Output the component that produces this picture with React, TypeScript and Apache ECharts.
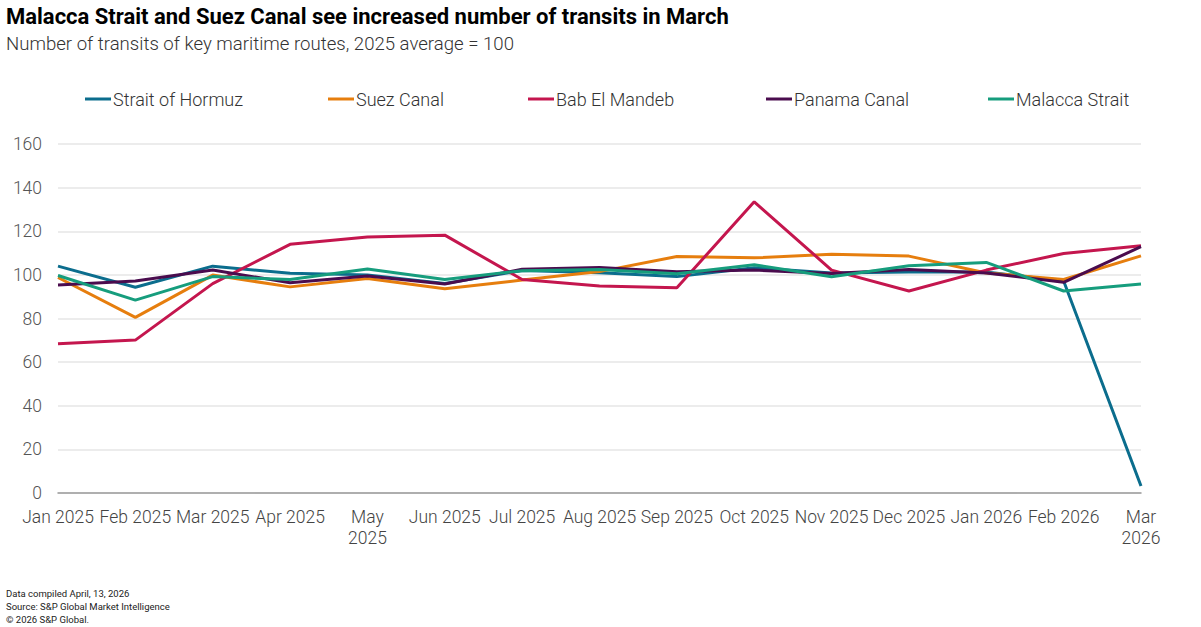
import React, { useEffect, useRef } from "react";
import * as echarts from "echarts";

const categories = [
  "Jan 2025", "Feb 2025", "Mar 2025", "Apr 2025", "May\n2025", "Jun 2025", "Jul 2025",
  "Aug 2025", "Sep 2025", "Oct 2025", "Nov 2025", "Dec 2025", "Jan 2026", "Feb 2026", "Mar\n2026",
];

const hormuz = [104, 94.3, 104, 100.7, 100, 96, 102, 101, 99.2, 103.3, 100.9, 101.3, 101.3, 97.2, 3.2];
const suez = [98.8, 80.5, 99.9, 94.5, 98.3, 93.6, 97.6, 101.5, 108.4, 107.8, 109.4, 108.6, 100.9, 97.9, 108.7];
const babElMandeb = [68.4, 70.1, 96, 114, 117.4, 118.2, 97.9, 94.9, 94.1, 133.5, 102.2, 92.6, 102.2, 109.8, 113.3];
const panama = [95.4, 97.2, 102.2, 96.4, 99.5, 95.8, 102.6, 103.4, 101.4, 102.2, 100.6, 102.5, 100.9, 96.6, 112.9];
const malacca = [99.7, 88.4, 99.2, 97.9, 102.7, 97.9, 101.9, 102.5, 100.5, 104.6, 99.1, 104.2, 105.7, 92.6, 95.8];

const seriesNames = ["Strait of Hormuz", "Suez Canal", "Bab El Mandeb", "Panama Canal", "Malacca Strait"];
const seriesColors = ["#0b6d8d", "#e67e0e", "#c4164e", "#4a0c4e", "#169d7d"];
const seriesData = [hormuz, suez, babElMandeb, panama, malacca];
const legendLefts = [80, 323, 523, 761, 983];

const yTicks = { min: 0, max: 160, interval: 20 };

const FONT = "Roboto, 'Liberation Sans', sans-serif";

export default function App() {
  const ref = useRef<HTMLDivElement>(null);

  useEffect(() => {
    if (!ref.current) return;
    const chart = echarts.init(ref.current, undefined, { renderer: "svg" });
    chart.setOption({
      animation: false,
      backgroundColor: "#ffffff",
      textStyle: { fontFamily: FONT },
      title: [
        {
          text: "Malacca Strait and Suez Canal see increased number of transits in March",
          left: 1,
          top: 0,
          textStyle: { fontFamily: FONT, fontSize: 22, fontWeight: "bold", color: "#000000" },
        },
        {
          text: "Number of transits of key maritime routes, 2025 average = 100",
          left: 1,
          top: 29,
          textStyle: { fontFamily: FONT, fontSize: 18.6, fontWeight: 300, color: "#333333" },
        },
        {
          text: "Data compiled April, 13, 2026\nSource: S&P Global Market Intelligence\n© 2026 S&P Global.",
          left: 1,
          top: 582,
          textStyle: { fontFamily: FONT, fontSize: 9.5, fontWeight: "normal", color: "#222222", lineHeight: 13 },
        },
      ],
      legend: seriesNames.map((name, i) => ({
        data: [name],
        left: legendLefts[i],
        top: 85,
        icon: "rect",
        itemWidth: 26,
        itemHeight: 3,
        textStyle: { fontFamily: FONT, fontSize: 18, fontWeight: 300, color: "#333333", padding: [0, 0, 0, -3] },
      })),
      grid: { left: 58, right: 60, top: 144, bottom: 134, containLabel: false },
      xAxis: {
        type: "category",
        data: categories,
        boundaryGap: false,
        axisLine: { show: true, lineStyle: { color: "#9a9a9a", width: 1.5 } },
        axisTick: { show: false },
        axisLabel: {
          interval: 0,
          margin: 13,
          fontSize: 17.5,
          fontWeight: 300,
          lineHeight: 21,
          color: "#444444",
          fontFamily: FONT,
        },
        splitLine: { show: false },
      },
      yAxis: {
        type: "value",
        min: yTicks.min,
        max: yTicks.max,
        interval: yTicks.interval,
        axisLine: { show: false },
        axisTick: { show: false },
        axisLabel: { margin: 16, fontSize: 17.5, fontWeight: 300, color: "#555555", fontFamily: FONT },
        splitLine: { lineStyle: { color: "#e6e6e6", width: 1.5 } },
      },
      series: seriesNames.map((name, i) => ({
        name,
        type: "line",
        data: seriesData[i],
        symbol: "none",
        color: seriesColors[i],
        lineStyle: { width: 3, color: seriesColors[i] },
        emphasis: { disabled: true },
      })),
    });
    return () => chart.dispose();
  }, []);

  return (
    <div
      ref={ref}
      style={{ position: "fixed", left: 0, top: 0, width: 1201, height: 627 }}
    />
  );
}
